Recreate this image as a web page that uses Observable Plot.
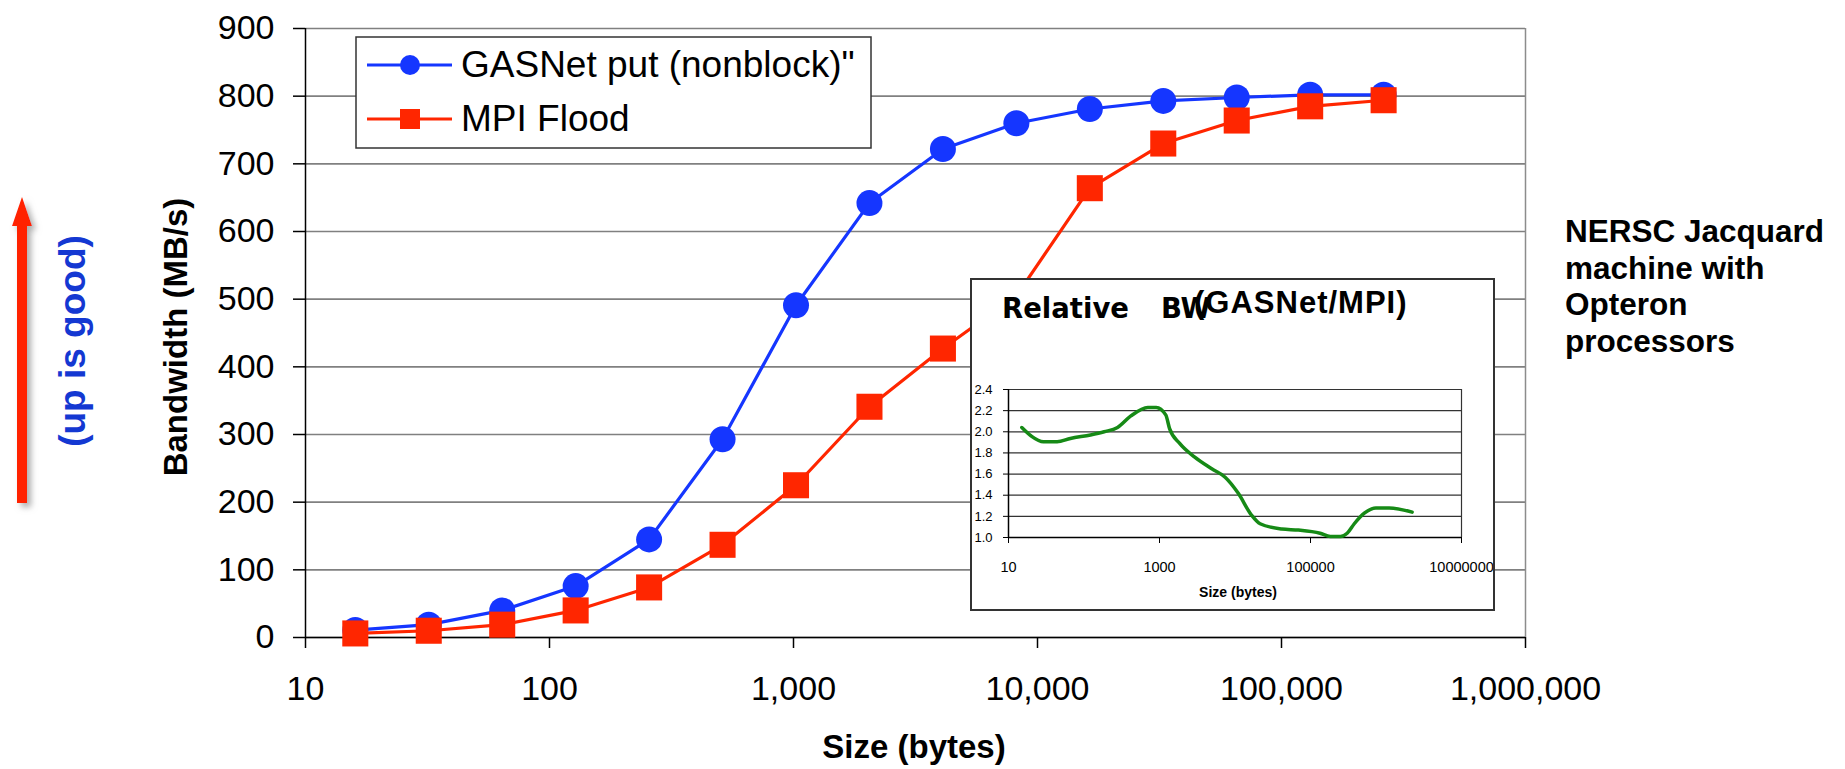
<!DOCTYPE html>
<html>
<head>
<meta charset="utf-8">
<script src="https://cdn.jsdelivr.net/npm/d3@7"></script>
<script src="https://cdn.jsdelivr.net/npm/@observablehq/plot@0.6"></script>
<style>
  html, body { margin: 0; padding: 0; background: white; }
  #wrap { position: relative; width: 1845px; height: 769px; overflow: hidden; }
  #wrap > svg { position: absolute; overflow: visible; }
</style>
</head>
<body>
<div id="wrap"></div>
<script>
// ---- main chart data ----
const sizes = [16, 32, 64, 128, 256, 512, 1024, 2048, 4096, 8192, 16384, 32768, 65536, 131072, 262144];
const gasnetBW = [11, 19, 40, 76, 145, 293, 491, 642, 722, 760, 781, 793, 798, 802, 802];
const mpiBW = [6, 10, 19, 40, 74, 137, 225, 341, 427, 505, 664, 730, 764, 785, 794];
const seriesNames = ["GASNet put (nonblock)\"", "MPI Flood"];
const xTicks = [10, 100, 1000, 10000, 100000, 1000000];
const yTicks = [0, 100, 200, 300, 400, 500, 600, 700, 800, 900];

// ---- inset data (relative BW GASNet/MPI) ----
const relSize = [15, 20, 29, 44, 66, 122, 185, 278, 418, 700, 905, 1210, 1360, 1850, 2930, 4920, 7400, 11000, 16600, 21500, 41700, 69000, 134000, 183000, 250000, 306000, 380000, 516000, 735000, 1100000, 2220000];
const relBW = [2.04, 1.96, 1.905, 1.905, 1.937, 1.97, 2.0, 2.04, 2.15, 2.23, 2.23, 2.16, 2.03, 1.89, 1.76, 1.65, 1.57, 1.42, 1.21, 1.13, 1.08, 1.07, 1.04, 1.01, 1.01, 1.04, 1.13, 1.23, 1.28, 1.28, 1.24];
const insetXTicks = [10, 1000, 100000, 10000000];
const insetYTicks = [1.0, 1.2, 1.4, 1.6, 1.8, 2.0, 2.2, 2.4];

const BLUE = "#1536ff";
const RED = "#ff2600";
const GREEN = "#168a16";
const SANS = "'Liberation Sans', Arial, Helvetica, sans-serif";

const gasRows = sizes.map((s, i) => ({size: s, bw: gasnetBW[i]}));
const mpiRows = sizes.map((s, i) => ({size: s, bw: mpiBW[i]}));
const relRows = relSize.map((s, i) => ({size: s, rel: relBW[i]}));

const wrap = document.getElementById("wrap");

// ---- main plot ----
const main = Plot.plot({
  width: 1845,
  height: 769,
  marginLeft: 305,
  marginRight: 320,
  marginTop: 28,
  marginBottom: 132,
  style: {fontFamily: SANS, fontSize: "34px", color: "#000", background: "white", overflow: "visible"},
  x: {type: "log", domain: [10, 1000000]},
  y: {domain: [0, 900]},
  marks: [
    Plot.gridY({ticks: yTicks, stroke: "#808080", strokeOpacity: 1, strokeWidth: 1.6}),
    Plot.ruleX([1000000], {stroke: "#8c8c8c", strokeWidth: 1.5}),
    Plot.axisX({ticks: xTicks, tickSize: 11, tickPadding: 27, tickFormat: d3.format(","), label: null, fontSize: 34, strokeWidth: 1.5}),
    Plot.axisY({ticks: yTicks, tickSize: 12, tickPadding: 19, label: null, fontSize: 34, strokeWidth: 1.5}),
    Plot.ruleY([0], {stroke: "#000", strokeWidth: 1.5}),
    Plot.ruleX([10], {stroke: "#000", strokeWidth: 1.5}),
    Plot.line(gasRows, {x: "size", y: "bw", stroke: BLUE, strokeWidth: 3.2}),
    Plot.dot(gasRows, {x: "size", y: "bw", r: 13, fill: BLUE, symbol: "circle"}),
    Plot.line(mpiRows, {x: "size", y: "bw", stroke: RED, strokeWidth: 3.2}),
    Plot.dot(mpiRows, {x: "size", y: "bw", r: 14.7, fill: RED, symbol: "square"})
  ]
});
main.style.left = "0px";
main.style.top = "0px";
wrap.appendChild(main);

// ---- inset plot ----
const inset = Plot.plot({
  width: 523,
  height: 331,
  marginLeft: 37,
  marginRight: 33,
  marginTop: 110,
  marginBottom: 73,
  style: {fontFamily: SANS, fontSize: "14px", color: "#000", background: "white", overflow: "visible"},
  x: {type: "log", domain: [10, 10000000]},
  y: {domain: [1.0, 2.4]},
  marks: [
    Plot.gridY({ticks: insetYTicks, stroke: "#333", strokeOpacity: 1, strokeWidth: 1.2}),
    Plot.ruleX([10000000], {stroke: "#333", strokeWidth: 1.2}),
    Plot.axisY({ticks: insetYTicks, tickSize: 5, tickPadding: 11, tickFormat: d3.format(".1f"), label: null, fontSize: 13}),
    Plot.axisX({ticks: insetXTicks, tickSize: 6, tickPadding: 18, tickFormat: d3.format("d"), label: null, fontSize: 14.5}),
    Plot.ruleX([10], {stroke: "#000", strokeWidth: 1.5}),
    Plot.ruleY([1.0], {stroke: "#000", strokeWidth: 1.5}),
    Plot.line(relRows, {x: "size", y: "rel", stroke: GREEN, strokeWidth: 3.5, curve: "monotone-x"})
  ]
});
inset.style.left = "971px";
inset.style.top = "279px";
wrap.appendChild(inset);

// ---- overlay: annotations, legend, inset frame ----
const ov = d3.create("svg")
  .attr("width", 1845).attr("height", 769)
  .style("left", "0px").style("top", "0px")
  .style("pointer-events", "none");

const defs = ov.append("defs");
const f = defs.append("filter").attr("id", "shadow").attr("x", "-50%").attr("y", "-10%").attr("width", "300%").attr("height", "130%");
f.append("feDropShadow").attr("dx", 4).attr("dy", 4).attr("stdDeviation", 3).attr("flood-color", "#999").attr("flood-opacity", 0.8);

// inset frame
ov.append("rect").attr("x", 971).attr("y", 279).attr("width", 523).attr("height", 331)
  .attr("fill", "none").attr("stroke", "#333").attr("stroke-width", 2);

// inset title
ov.append("text").attr("x", 1002).attr("y", 318).attr("font-family", "'DejaVu Sans', sans-serif")
  .attr("font-weight", "bold").attr("font-size", 27.5).text("Relative");
ov.append("text").attr("x", 1161).attr("y", 318).attr("font-family", "'DejaVu Sans', sans-serif")
  .attr("font-weight", "bold").attr("font-size", 27.5).text("BW");
ov.append("text").attr("x", 1194).attr("y", 313).attr("font-family", SANS)
  .attr("font-weight", "bold").attr("font-size", 31).attr("letter-spacing", 1).text("(GASNet/MPI)");

// inset x title
ov.append("text").attr("x", 1238).attr("y", 597).attr("text-anchor", "middle").attr("font-family", SANS)
  .attr("font-weight", "bold").attr("font-size", 14).text("Size (bytes)");

// main axis titles
ov.append("text").attr("x", 914).attr("y", 758).attr("text-anchor", "middle").attr("font-family", SANS)
  .attr("font-weight", "bold").attr("font-size", 33).text("Size (bytes)");
ov.append("text").attr("transform", "translate(187,337) rotate(-90)").attr("text-anchor", "middle")
  .attr("font-family", SANS).attr("font-weight", "bold").attr("font-size", 33).text("Bandwidth (MB/s)");

// up is good
ov.append("text").attr("transform", "translate(85,341) rotate(-90)").attr("text-anchor", "middle")
  .attr("font-family", SANS).attr("font-weight", "bold").attr("font-size", 37).attr("fill", "#1438d2").text("(up is good)");
const arrow = ov.append("g").attr("filter", "url(#shadow)");
arrow.append("rect").attr("x", 17).attr("y", 222).attr("width", 10).attr("height", 281).attr("fill", "#ff2200");
arrow.append("path").attr("d", "M22,197 L32,226 L12,226 Z").attr("fill", "#ff2200");

// right annotation
const note = ["NERSC Jacquard", "machine with", "Opteron", "processors"];
note.forEach((t, i) => {
  ov.append("text").attr("x", 1565).attr("y", 242 + i * 36.5).attr("font-family", SANS)
    .attr("font-weight", "bold").attr("font-size", 31.5).text(t);
});

// legend
ov.append("rect").attr("x", 356).attr("y", 37).attr("width", 515).attr("height", 111)
  .attr("fill", "white").attr("stroke", "#333").attr("stroke-width", 1.5);
const legColors = [BLUE, RED];
const legY = [65, 119];
seriesNames.forEach((name, i) => {
  const y = legY[i];
  ov.append("line").attr("x1", 367).attr("x2", 452).attr("y1", y).attr("y2", y)
    .attr("stroke", legColors[i]).attr("stroke-width", 3);
  if (i === 0) {
    ov.append("circle").attr("cx", 410).attr("cy", y).attr("r", 10).attr("fill", BLUE);
  } else {
    ov.append("rect").attr("x", 400).attr("y", y - 10).attr("width", 20).attr("height", 20).attr("fill", RED);
  }
  ov.append("text").attr("x", 461).attr("y", y + 12).attr("font-family", SANS)
    .attr("font-size", 37).text(name);
});

wrap.appendChild(ov.node());
</script>
</body>
</html>
